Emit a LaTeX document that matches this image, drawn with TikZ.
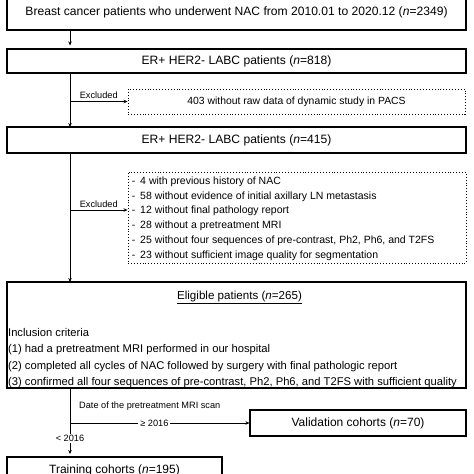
\documentclass[tikz,border=0pt]{standalone}
\usepackage{fontspec}
\setmainfont{Liberation Sans}
\usetikzlibrary{arrows.meta,calc}
\begin{document}
\begin{tikzpicture}[x=1pt,y=-1pt,
  mainbox/.style={draw,line width=1.1pt,minimum width=459pt,inner sep=0pt,font=\fontsize{12.1}{14}\selectfont},
  exbox/.style={draw,dotted,line width=0.9pt,inner sep=0pt},
  conn/.style={line width=0.9pt,-{Stealth[length=4pt,width=3.5pt]}},
  plain/.style={line width=0.9pt},
  small/.style={font=\fontsize{9.2}{11}\selectfont,inner sep=1pt},
  listtext/.style={font=\fontsize{10.5}{14.9}\selectfont,inner sep=0pt}
]
\useasboundingbox (0,0) rectangle (474,474);
\clip (0,0) rectangle (474,474);
\fill[white] (0,0) rectangle (474,474);
% main boxes
\node[mainbox,minimum height=36pt] (b1) at (236.5,12) {Breast cancer patients who underwent NAC from 2010.01 to 2020.12 (\textit{n}=2349)};
\node[mainbox,minimum height=24pt] (b2) at (236.5,61) {ER+ HER2- LABC patients (\textit{n}=818)};
\node[mainbox,minimum height=26pt] (b3) at (236.5,140) {ER+ HER2- LABC patients (\textit{n}=415)};
\node[mainbox,minimum height=106pt] (b4) at (236.5,335) {};
\node[mainbox,minimum width=216pt,minimum height=26pt,font=\fontsize{12}{14}\selectfont] (val) at (358,423) {Validation cohorts (\textit{n}=70)};
\node[mainbox,minimum width=215pt,minimum height=26pt,font=\fontsize{12}{14}\selectfont] (tr) at (114.5,470) {Training cohorts (\textit{n}=195)};
% exclusion boxes
\node[exbox,minimum width=337pt,minimum height=25pt,font=\fontsize{10.4}{12}\selectfont] (e1) at (296.5,101.5) {403 without raw data of dynamic study in PACS};
\node[exbox,minimum width=338pt,minimum height=91pt] (e2) at (297,217.5) {};
\node[listtext,anchor=north west,align=left] (e2t) at ($(e2.north west)+(4,2)$) {%
\begin{tabular}{@{}l@{\hspace{5pt}}l@{}}
-&4 with previous history of NAC\\
-&58 without evidence of initial axillary LN metastasis\\
-&12 without final pathology report\\
-&28 without a pretreatment MRI\\
-&25 without four sequences of pre-contrast, Ph2, Ph6, and T2FS\\
-&23 without sufficient image quality for segmentation
\end{tabular}};
% eligible box text
\node[font=\fontsize{11.6}{13}\selectfont,inner sep=0pt] (b4title) at (239.5,297) {\underline{Eligible patients (\textit{n}=265)}};
\node[anchor=north west,align=left,inner sep=0pt,font=\fontsize{11.2}{16.5}\selectfont] (b4list) at ($(b4.north west)+(1.5,46.5)$) {Inclusion criteria\\
(1) had a pretreatment MRI performed in our hospital\\
(2) completed all cycles of NAC followed by surgery with final pathologic report\\
(3) confirmed all four sequences of pre-contrast, Ph2, Ph6, and T2FS with sufficient quality};
% spine coordinates
\coordinate (s1) at (70,30);
\coordinate (t2) at (70,45.5);
\coordinate (s2) at (70,73);
\coordinate (t3) at (70,127);
\coordinate (j1) at (70,101.5);
\coordinate (s3) at (70,153);
\coordinate (t4) at (70,282);
\coordinate (j2) at (70,210);
\coordinate (s4) at (70,388);
\coordinate (j3) at (70,423);
\coordinate (t5) at (70,454);
% connectors
\draw[conn] (s1) -- (t2);
\draw[conn] (s2) -- (t3);
\draw[conn] (j1) -- node[small,above,pos=0.5,yshift=1pt] (ex1) {Excluded} (j1 -| e1.west);
\draw[conn] (s3) -- (t4);
\draw[conn] (j2) -- node[small,above,pos=0.5,yshift=1pt] (ex2) {Excluded} (j2 -| e2.west);
\draw[plain] (s4) -- (j3);
\draw[conn] (j3) -- node[small,fill=white,pos=0.47,inner sep=2pt] (ge) {≥ 2016} (j3 -| val.west);
\draw[conn] (j3) -- node[small,fill=white,pos=0.5,inner sep=1.5pt] (lt) {< 2016} (t5);
\node[small,anchor=west] (date) at (78,406) {Date of the pretreatment MRI scan};
\end{tikzpicture}
\end{document}
